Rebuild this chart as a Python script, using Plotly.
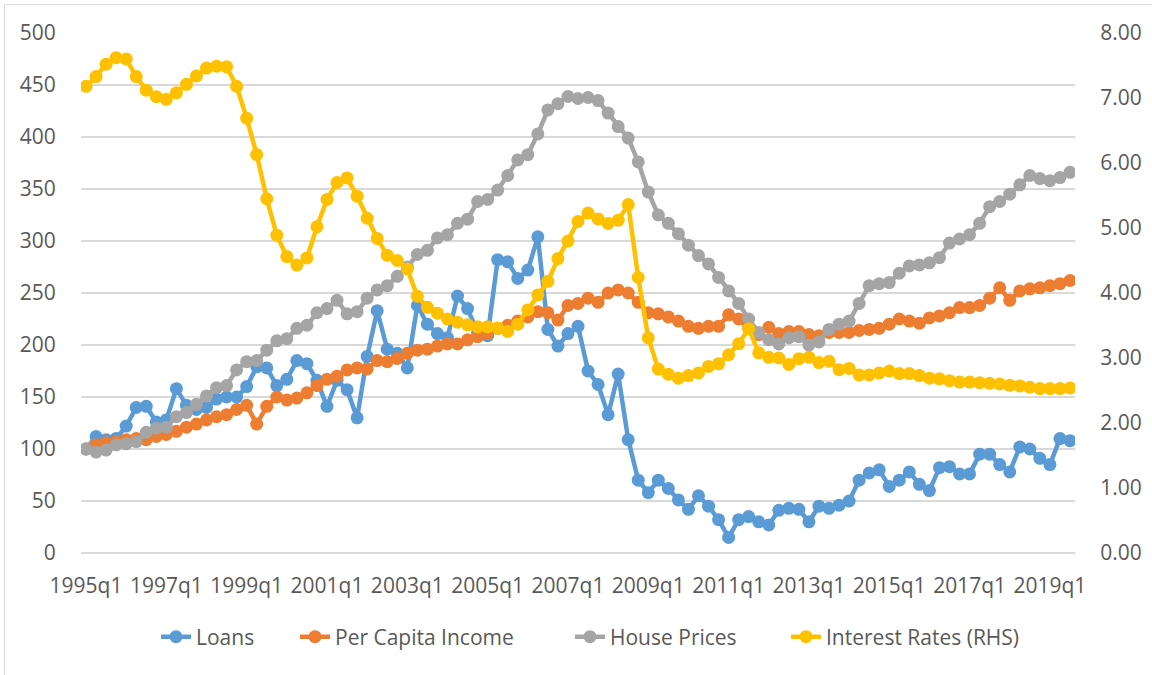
import plotly.graph_objects as go

quarters = [f"{y}q{q}" for y in range(1995, 2020) for q in range(1, 5)][:99]

loans = [100, 112, 109, 110, 122, 140, 141, 126, 128, 158,
         142, 138, 140, 148, 150, 150, 160, 179, 178, 161,
         167, 185, 182, 166, 141, 166, 157, 130, 189, 233,
         196, 192, 178, 238, 220, 211, 207, 247, 235, 212,
         209, 282, 280, 264, 272, 304, 215, 199, 211, 218,
         175, 162, 133, 172, 109, 70, 58, 70, 62, 51,
         42, 55, 45, 32, 15, 32, 35, 30, 27, 41,
         43, 42, 30, 45, 43, 46, 50, 70, 77, 80,
         64, 70, 78, 66, 60, 82, 83, 76, 76, 95,
         95, 85, 78, 102, 100, 91, 85, 110, 108]

income = [100, 104, 106, 107, 109, 110, 109, 112, 114, 117,
          121, 124, 128, 131, 133, 138, 142, 124, 141, 150,
          147, 149, 154, 161, 167, 170, 176, 178, 177, 185,
          184, 187, 192, 195, 196, 199, 201, 201, 205, 208,
          211, 216, 219, 223, 227, 232, 231, 224, 238, 240,
          245, 241, 250, 253, 250, 241, 231, 230, 227, 223,
          218, 216, 218, 218, 229, 225, 216, 210, 217, 211,
          213, 213, 210, 209, 212, 212, 212, 214, 215, 216,
          220, 225, 223, 221, 226, 228, 231, 236, 236, 238,
          245, 255, 243, 252, 254, 255, 257, 259, 262]

house = [100, 97, 99, 104, 105, 107, 116, 120, 121, 131,
         135, 143, 151, 159, 161, 176, 184, 185, 195, 204,
         206, 216, 219, 231, 235, 243, 230, 232, 245, 253,
         257, 266, 275, 287, 291, 303, 306, 317, 321, 338,
         340, 349, 363, 378, 383, 403, 426, 432, 439, 437,
         438, 435, 423, 410, 399, 376, 347, 325, 317, 307,
         296, 286, 278, 265, 252, 240, 225, 212, 205, 201,
         207, 208, 200, 203, 215, 220, 223, 240, 257, 259,
         260, 269, 276, 277, 279, 284, 298, 302, 306, 317,
         333, 338, 345, 354, 363, 360, 358, 361, 366]

rates = [7.18, 7.33, 7.52, 7.62, 7.60, 7.33, 7.12, 7.02, 6.98, 7.08,
         7.21, 7.34, 7.46, 7.49, 7.48, 7.18, 6.69, 6.13, 5.45, 4.89,
         4.56, 4.43, 4.54, 5.02, 5.44, 5.70, 5.77, 5.49, 5.15, 4.84,
         4.58, 4.50, 4.37, 3.95, 3.78, 3.69, 3.60, 3.55, 3.51, 3.48,
         3.48, 3.46, 3.41, 3.52, 3.74, 3.97, 4.18, 4.53, 4.80, 5.10,
         5.23, 5.14, 5.07, 5.12, 5.36, 4.24, 3.31, 2.83, 2.75, 2.69,
         2.73, 2.77, 2.87, 2.91, 3.05, 3.22, 3.45, 3.08, 3.01, 3.00,
         2.90, 2.99, 3.01, 2.93, 2.95, 2.82, 2.84, 2.74, 2.74, 2.77,
         2.80, 2.76, 2.76, 2.73, 2.69, 2.68, 2.65, 2.63, 2.63, 2.62,
         2.61, 2.60, 2.58, 2.57, 2.55, 2.53, 2.53, 2.53, 2.54]

tick_labels = quarters[::8]

series = [
    ("Loans", loans, "#5B9BD5", "y"),
    ("Per Capita Income", income, "#ED7D31", "y"),
    ("House Prices", house, "#A5A5A5", "y"),
    ("Interest Rates (RHS)", rates, "#FFC000", "y2"),
]

# plot area in page pixels
PL, PR, PT, PB = 81, 1075, 33, 553
PW, PH = PR - PL, PB - PT

legend_keys = ["legend", "legend2", "legend3", "legend4"]
legend_text_x = [196, 335, 610, 826]

fig = go.Figure()
for (name, vals, color, ax), lk in zip(series, legend_keys):
    fig.add_trace(go.Scatter(
        x=quarters, y=vals, name=name, yaxis=ax, legend=lk,
        mode="lines+markers",
        line=dict(color=color, width=4.5),
        marker=dict(color=color, size=13),
    ))

font_color = "#595959"
legend_layouts = {}
for lk, tx in zip(legend_keys, legend_text_x):
    legend_layouts[lk] = dict(
        orientation="h", x=(tx - 40 - PL) / PW, xanchor="left",
        y=(PB - 637) / PH, yanchor="middle",
        font=dict(size=21, color=font_color), bgcolor="rgba(0,0,0,0)",
    )

fig.update_layout(
    width=1152, height=675,
    paper_bgcolor="white", plot_bgcolor="white",
    margin=dict(l=PL, r=1152 - PR, t=PT, b=675 - PB, autoexpand=False),
    font=dict(family="Open Sans", size=21, color=font_color),
    showlegend=True,
    xaxis=dict(type="category", range=[-0.5, 98.5], tickmode="array",
               tickvals=tick_labels, ticktext=tick_labels, automargin=False,
               showgrid=False, zeroline=False, showline=False,
               ticks="outside", ticklen=14, tickcolor="rgba(0,0,0,0)",
               tickfont=dict(size=21, color=font_color)),
    yaxis=dict(range=[0, 500], dtick=50, showgrid=True, gridcolor="#D9D9D9", gridwidth=1.5,
               zeroline=True, zerolinecolor="#D9D9D9", zerolinewidth=1.5, showline=False,
               ticks="outside", ticklen=20, tickcolor="rgba(0,0,0,0)", automargin=False,
               tickfont=dict(size=21, color=font_color)),
    yaxis2=dict(range=[0, 8], dtick=1, tickformat=".2f", overlaying="y", side="right",
                showgrid=False, zeroline=False, showline=False, automargin=False,
                ticks="outside", ticklen=8, ticklabelstandoff=12, tickcolor="rgba(0,0,0,0)",
                tickfont=dict(size=21, color=font_color)),
    shapes=[dict(type="rect", xref="paper", yref="paper",
                 x0=(4.5 - PL) / PW, x1=(1165 - PL) / PW,
                 y0=(PB - 690) / PH, y1=(PB - 4.5) / PH,
                 line=dict(color="#D9D9D9", width=1), fillcolor="rgba(0,0,0,0)", layer="below")],
    **legend_layouts,
)

fig.write_html("out.html", config={"displayModeBar": False},
               post_script="document.body.style.margin='0';")
